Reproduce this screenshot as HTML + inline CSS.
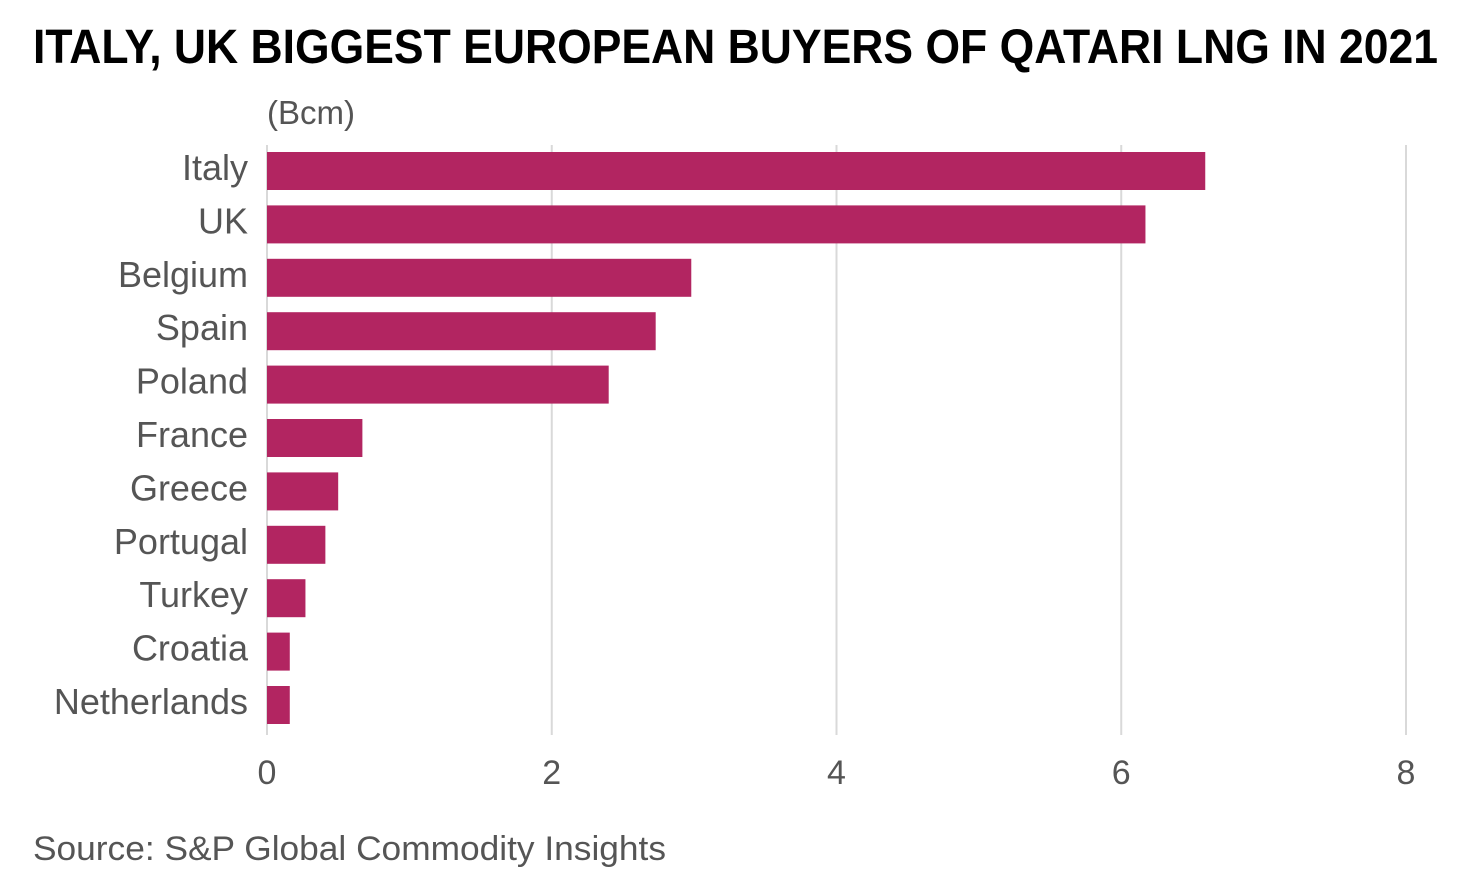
<!DOCTYPE html>
<html><head><meta charset="utf-8"><style>
body{margin:0;background:#fff;}
svg{display:block;font-family:"Liberation Sans",sans-serif;}
</style></head><body>
<svg id="chart" width="1474" height="882">
<text x="33" y="63" font-size="48" font-weight="bold" fill="#000" textLength="1405" lengthAdjust="spacingAndGlyphs">ITALY, UK BIGGEST EUROPEAN BUYERS OF QATARI LNG IN 2021</text>
<text x="267" y="124" font-size="33" fill="#555">(Bcm)</text>
<g id="grid"></g><g id="bars"></g><g id="cats"></g><g id="ticks"></g>
<text x="33" y="860" font-size="34" fill="#555" textLength="633" lengthAdjust="spacingAndGlyphs">Source: S&amp;P Global Commodity Insights</text>
</svg>
<script>
const categories=["Italy","UK","Belgium","Spain","Poland","France","Greece","Portugal","Turkey","Croatia","Netherlands"];
const values=[6.59,6.17,2.98,2.73,2.40,0.67,0.50,0.41,0.27,0.16,0.16];
const tickValues=[0,2,4,6,8];
const NS="http://www.w3.org/2000/svg";
const x0=267,x1=1406,xMax=8;
const xs=v=>x0+(x1-x0)*v/xMax;
const yTop=152,step=53.4,bh=38;
const ys=i=>yTop+i*step;
function mk(tag,attrs,parent){const e=document.createElementNS(NS,tag);for(const k in attrs)e.setAttribute(k,attrs[k]);document.getElementById(parent).appendChild(e);return e;}
tickValues.forEach(t=>{
  if(t>0){const l=mk("line",{x1:xs(t),x2:xs(t),y1:145,y2:735,stroke:"#d9d9d9","stroke-width":2},"grid");
  
  }
  const tx=mk("text",{x:xs(t),y:784,"font-size":34,fill:"#555","text-anchor":"middle"},"ticks");
  tx.textContent=t;
  
  
});
const ax=mk("line",{x1:x0,x2:x0,y1:145,y2:735,stroke:"#d9d9d9","stroke-width":2},"grid");


categories.forEach((c,i)=>{
  const r=mk("rect",{x:x0,y:ys(i),width:xs(values[i])-x0,height:bh,fill:"#b22561"},"bars");
  
  
  const t=mk("text",{x:248,y:ys(i)+bh/2+9,"font-size":36,fill:"#555","text-anchor":"end"},"cats");
  t.textContent=c;
  
  
});
</script>
</body></html>
